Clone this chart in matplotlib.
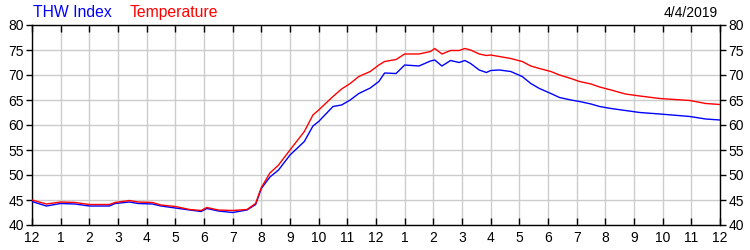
import matplotlib
matplotlib.use("Agg")
import matplotlib.pyplot as plt
from matplotlib.ticker import FixedLocator, MultipleLocator

plt.rcParams["font.family"] = ["Liberation Sans", "DejaVu Sans"]

# hours since midnight and readings (deg F)
hours = [0.0, 0.5, 1.0, 1.5, 2.0, 2.7, 2.9, 3.4, 3.7, 4.2, 4.5, 5.0, 5.5, 5.9,
         6.1, 6.5, 7.0, 7.5, 7.8, 8.0, 8.3, 8.6, 9.0, 9.5, 9.8, 10.0, 10.5,
         10.8, 11.1, 11.4, 11.8, 12.1, 12.3, 12.7, 13.0, 13.5, 13.9, 14.05,
         14.3, 14.6, 14.9, 15.1, 15.3, 15.6, 15.85, 16.0, 16.3, 16.7, 17.1,
         17.4, 17.7, 18.1, 18.4, 18.8, 19.1, 19.5, 19.8, 20.2, 20.7, 21.2,
         21.9, 22.95, 23.5, 24.0]
temperature = [45.0, 44.2, 44.6, 44.5, 44.1, 44.1, 44.5, 44.9, 44.6, 44.5,
               44.0, 43.7, 43.1, 42.9, 43.5, 43.0, 42.9, 43.1, 44.3, 47.5,
               50.4, 52.0, 55.0, 58.7, 62.0, 63.0, 65.7, 67.2, 68.3, 69.7,
               70.7, 72.0, 72.7, 73.1, 74.2, 74.2, 74.7, 75.3, 74.2, 74.9,
               74.9, 75.3, 75.0, 74.2, 73.9, 74.0, 73.7, 73.3, 72.7, 71.8,
               71.3, 70.7, 70.0, 69.3, 68.7, 68.2, 67.6, 67.0, 66.2, 65.8,
               65.3, 64.9, 64.3, 64.1]
thw_index = [44.7, 43.8, 44.3, 44.2, 43.8, 43.8, 44.3, 44.6, 44.3, 44.2,
             43.8, 43.4, 43.0, 42.7, 43.3, 42.8, 42.5, 43.0, 44.1, 47.3,
             49.6, 51.0, 54.0, 56.7, 59.8, 60.7, 63.7, 64.0, 65.0, 66.3,
             67.4, 68.7, 70.4, 70.3, 72.0, 71.8, 72.8, 73.0, 71.8, 72.9,
             72.5, 72.9, 72.3, 71.0, 70.5, 70.9, 71.0, 70.7, 69.7, 68.3,
             67.3, 66.3, 65.5, 65.0, 64.7, 64.2, 63.7, 63.3, 62.9, 62.5,
             62.2, 61.7, 61.2, 61.0]
hour_labels = ["12", "1", "2", "3", "4", "5", "6", "7", "8", "9", "10", "11",
               "12", "1", "2", "3", "4", "5", "6", "7", "8", "9", "10", "11", "12"]

fig = plt.figure(figsize=(7.5, 2.5), dpi=100)
ax = fig.add_axes([32 / 750, 0.1, 688 / 750, 0.8])

ax.plot(hours, thw_index, color="#0000ff", lw=1.0, zorder=3)
ax.plot(hours, temperature, color="#ff0000", lw=1.0, zorder=3)

ax.set_xlim(0, 24)
ax.set_ylim(40, 80)
ax.xaxis.set_major_locator(FixedLocator(range(25)))
ax.set_xticklabels(hour_labels)
ax.yaxis.set_major_locator(MultipleLocator(5))
ax.grid(True, color="#cccccc", lw=1.0, zorder=0)
ax.set_axisbelow(True)

ax.tick_params(axis="x", direction="in", top=True, length=5, width=1,
               labelsize=10, pad=4, color="black")
ax.tick_params(axis="y", direction="out", left=True, right=True,
               labelleft=True, labelright=True, length=4, width=1,
               labelsize=10, pad=2)
for sp in ax.spines.values():
    sp.set_color("black")
    sp.set_linewidth(1.0)

fig.text(33 / 750, 1 - 17 / 250, "THW Index", color="#0000ff", fontsize=11.3,
         ha="left", va="baseline")
fig.text(130 / 750, 1 - 17 / 250, "Temperature", color="#ff0000", fontsize=11.3,
         ha="left", va="baseline")
fig.text(718 / 750, 1 - 17 / 250, "4/4/2019", color="black", fontsize=10,
         ha="right", va="baseline")

fig.savefig("out.png", dpi=100)
